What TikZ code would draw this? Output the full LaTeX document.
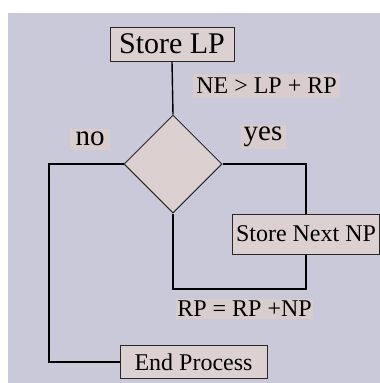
\documentclass[tikz,border=0pt]{standalone}
\usepackage{fontspec}
\setmainfont{Liberation Serif}
\usetikzlibrary{shapes.geometric}
\definecolor{panel}{RGB}{201,201,218}
\definecolor{boxfill}{RGB}{221,208,208}
\definecolor{tagfill}{RGB}{217,204,204}
\definecolor{edge}{RGB}{40,40,40}
\tikzset{
  stepbox/.style={draw=edge, line width=1pt, fill=boxfill, inner sep=0pt,
    font=\fontsize{24}{24}\selectfont, text=black},
  tag/.style={fill=tagfill, inner sep=0pt, font=\fontsize{24}{24}\selectfont, text=black},
  link/.style={draw=black, line width=1.4pt},
}
\begin{document}
\begin{tikzpicture}[x=1pt,y=-1pt]
  \useasboundingbox (0,0) rectangle (380,383);
  \fill[panel] (8,13) rectangle (380,383);

  % process boxes
  \node[stepbox, minimum width=124pt, minimum height=34pt, font=\fontsize{30}{30}\selectfont]
    (storelp) at (172,44) {Store LP};
  \node[stepbox, minimum width=147pt, minimum height=40pt] (storenext) at (306,234) {Store Next NP};
  \node[stepbox, minimum width=147pt, minimum height=33pt] (endproc) at (193.5,362) {End Process};

  % decision
  \node[diamond, draw=edge, line width=1pt, fill=boxfill, minimum width=98pt,
    minimum height=98pt, inner sep=0pt] (dec) at (173,164) {};

  % labels
  \node[tag, minimum width=40pt, minimum height=21pt, font=\fontsize{29}{29}\selectfont] (no) at (90,139) {no};
  \node[tag, minimum width=45pt, minimum height=24pt, font=\fontsize{29}{29}\selectfont] (yes) at (263,137) {yes};
  \node[tag, minimum width=147pt, minimum height=24pt] (cond) at (266.5,86) {NE > LP + RP};
  \node[tag, minimum width=137pt, minimum height=20pt] (rpsum) at (244.5,308.5) {RP = RP +NP};

  % connectors
  \coordinate (nocorner) at (49,164);
  \coordinate (loop) at (173,289);
  \draw[link] (storelp.south) -- (dec.north);
  \draw[link] (dec.west) -- (nocorner) |- (endproc.west);
  \draw[link] (dec.east) -| (storenext.north);
  \draw[link] (storenext.south) |- (loop) -- (dec.south);
\end{tikzpicture}
\end{document}
